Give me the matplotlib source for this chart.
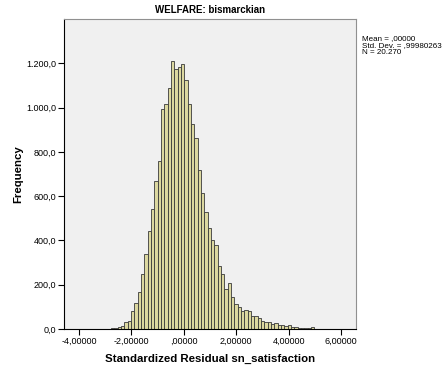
import matplotlib
matplotlib.use("Agg")
import matplotlib.pyplot as plt
from matplotlib.ticker import FuncFormatter

plt.rcParams['font.family'] = ['Liberation Sans', 'DejaVu Sans']

# Histogram of standardized residuals
bin_start = -3.033
bin_width = 0.1272
counts = [1, 2, 3, 5, 8, 15, 30, 36, 81, 119, 165,
          248, 338, 442, 541, 667, 757, 992, 1015, 1087, 1210,
          1173, 1183, 1199, 1126, 1015, 925, 861, 717, 614, 527,
          455, 404, 379, 284, 247, 180, 206, 146, 113, 101,
          80, 87, 80, 60, 60, 48, 38, 33, 33, 21,
          26, 18, 18, 15, 16, 10, 7, 6, 3, 5,
          3, 7, 2, 2, 1, 1, 1, 0, 1, 1]
x_ticks = [-4, -2, 0, 2, 4, 6]
y_ticks = [0, 200, 400, 600, 800, 1000, 1200]
stats_text = "Mean = ,00000\nStd. Dev. = ,99980263\nN = 20.270"

lefts = [bin_start + i * bin_width for i in range(len(counts))]


def fmt_x(v, pos):
    s = f"{v:.5f}".replace('.', ',')
    if s.startswith('0,'):
        s = s[1:]
    return s


def fmt_y(v, pos):
    s = f"{v:,.1f}"
    return s.replace(',', 'X').replace('.', ',').replace('X', '.')


fig = plt.figure(figsize=(4.46, 3.69), dpi=100)
ax = fig.add_axes([0.1435, 0.1084, 0.6545, 0.8401])
ax.set_facecolor('#f0f0f0')

ax.bar(lefts, counts, width=bin_width, align='edge',
       color='#dcd8a0', edgecolor='#3a3a3a', linewidth=0.6)

ax.set_xlim(-4.57, 6.57)
ax.set_ylim(0, 1400)
ax.set_xticks(x_ticks)
ax.set_yticks(y_ticks)
ax.xaxis.set_major_formatter(FuncFormatter(fmt_x))
ax.yaxis.set_major_formatter(FuncFormatter(fmt_y))
ax.tick_params(labelsize=6.5, length=4, width=0.8, pad=1.5, colors='black')

for side in ['top', 'right']:
    ax.spines[side].set_color('#909090')
ax.spines['left'].set_color('black')
ax.spines['bottom'].set_color('black')

ax.set_title("WELFARE: bismarckian", fontsize=7, fontweight='bold', pad=4)
ax.set_xlabel("Standardized Residual sn_satisfaction", fontsize=8.2,
              fontweight='bold', va='center')
ax.set_ylabel("Frequency", fontsize=8.2, fontweight='bold', va='center')
ax.xaxis.set_label_coords(0.5, -0.095)
ax.yaxis.set_label_coords(-0.158, 0.5)

fig.text(0.812, 0.905, stats_text, fontsize=5.8, va='top', ha='left',
         linespacing=1.0)

fig.savefig("out.png", dpi=100, facecolor='white')
